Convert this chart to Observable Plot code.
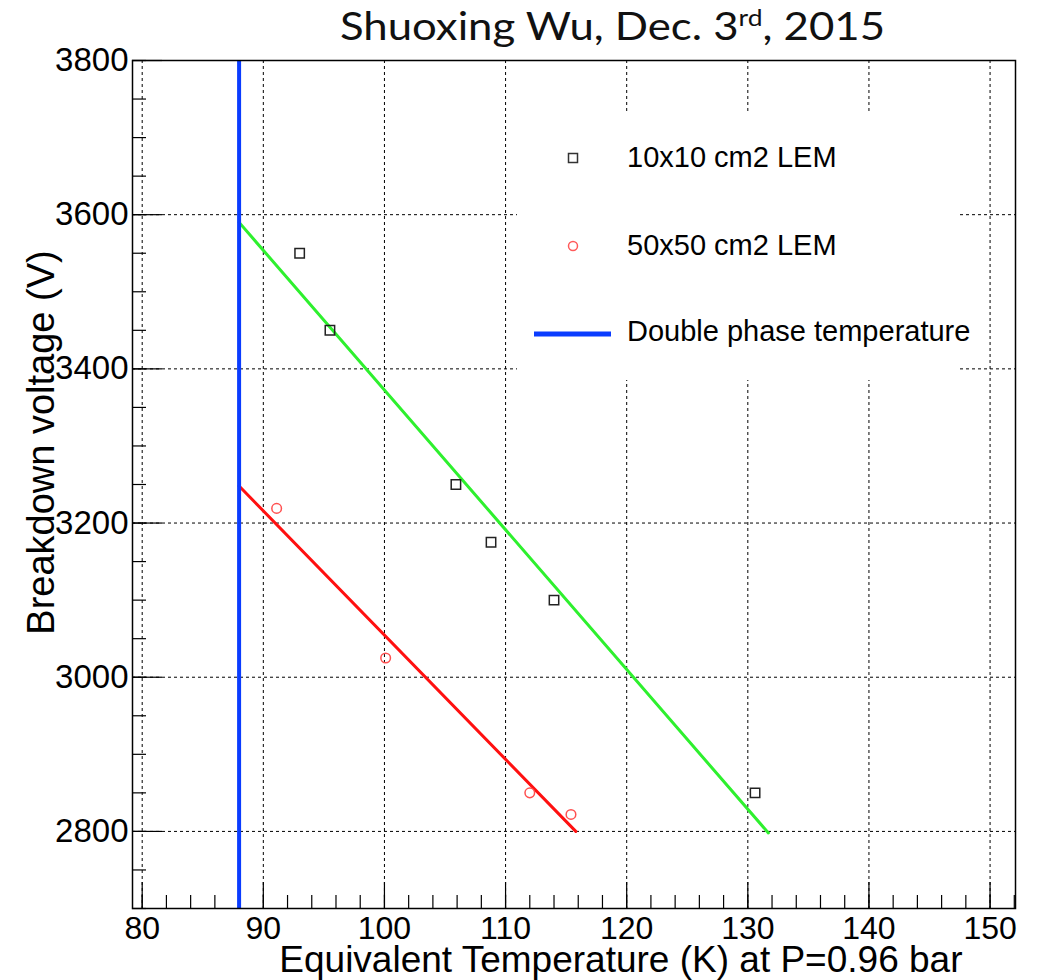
<!DOCTYPE html>
<html>
<head>
<meta charset="utf-8">
<script src="https://cdn.jsdelivr.net/npm/d3@7"></script>
<script src="https://cdn.jsdelivr.net/npm/@observablehq/plot@0.6"></script>
<style>
  body { margin: 0; background: #fff; }
  #wrap { position: relative; width: 1043px; height: 980px; }
  #overlay { position: absolute; left: 0; top: 0; pointer-events: none; }
</style>
</head>
<body>
<div id="wrap"></div>
<script>
// ---- data ----
const tempSmall = [93.0, 95.5, 105.9, 108.8, 114.0, 130.6];   // 10x10 cm2 LEM
const voltSmall = [3550, 3450, 3250, 3175, 3100, 2850];
const tempLarge = [91.1, 100.1, 112.0, 115.4];               // 50x50 cm2 LEM
const voltLarge = [3219, 3025, 2850, 2822];
const fitSmallT = [88.0, 131.7];                             // green fit line endpoints
const fitSmallV = [3590, 2798];
const fitLargeT = [88.0, 115.8];                             // red fit line endpoints
const fitLargeV = [3248, 2800];
const doublePhaseT = [88];
const xMajor = [80, 90, 100, 110, 120, 130, 140, 150];
const xMinor = [80, 82, 84, 86, 88, 90, 92, 94, 96, 98, 100, 102, 104, 106, 108, 110, 112, 114, 116, 118, 120, 122, 124, 126, 128, 130, 132, 134, 136, 138, 140, 142, 144, 146, 148, 150, 152];
const yMajor = [2800, 3000, 3200, 3400, 3600, 3800];
const yMinor = [2700, 2750, 2800, 2850, 2900, 2950, 3000, 3050, 3100, 3150, 3200, 3250, 3300, 3350, 3400, 3450, 3500, 3550, 3600, 3650, 3700, 3750, 3800];
const legendLabels = ["10x10 cm2 LEM", "50x50 cm2 LEM", "Double phase temperature"];
const xTitle = "Equivalent Temperature (K) at P=0.96 bar";
const yTitle = "Breakdown voltage (V)";

const small = tempSmall.map((t, i) => ({t, v: voltSmall[i]}));
const large = tempLarge.map((t, i) => ({t, v: voltLarge[i]}));
const fitSmall = fitSmallT.map((t, i) => ({t, v: fitSmallV[i]}));
const fitLarge = fitLargeT.map((t, i) => ({t, v: fitLargeV[i]}));

const W = 1043, H = 980, mL = 132, mR = 28, mT = 60, mB = 72;
const frameW = W - mL - mR, frameH = H - mT - mB;

const chart = Plot.plot({
  width: W, height: H,
  marginLeft: mL, marginRight: mR, marginTop: mT, marginBottom: mB,
  x: {domain: [79.2, 152.1]},
  y: {domain: [2700, 3800]},
  style: {fontFamily: "Liberation Sans, Arial, sans-serif", background: "white", color: "black"},
  marks: [
    Plot.gridX(xMajor, {stroke: "black", strokeOpacity: 1, strokeWidth: 1, strokeDasharray: "3,3"}),
    Plot.gridY(yMajor, {stroke: "black", strokeOpacity: 1, strokeWidth: 1, strokeDasharray: "3,3"}),
    Plot.line(fitLarge, {x: "t", y: "v", stroke: "#ff1010", strokeWidth: 3}),
    Plot.line(fitSmall, {x: "t", y: "v", stroke: "#2ef02e", strokeWidth: 3}),
    Plot.dot(small, {x: "t", y: "v", symbol: "square", r: 5.3, stroke: "#222", strokeWidth: 1.5, fill: "none"}),
    Plot.dot(large, {x: "t", y: "v", symbol: "circle", r: 4.8, stroke: "#ff5050", strokeWidth: 1.5, fill: "none"}),
    Plot.ruleX(xMinor, {x: d => d, insetTop: frameH - 13, stroke: "black", strokeWidth: 1.2}),
    Plot.ruleX(xMajor, {x: d => d, insetTop: frameH - 26, stroke: "black", strokeWidth: 1.2}),
    Plot.ruleY(yMinor, {y: d => d, insetRight: frameW - 14, stroke: "black", strokeWidth: 1.2}),
    Plot.ruleY(yMajor, {y: d => d, insetRight: frameW - 30, stroke: "black", strokeWidth: 1.2}),
    Plot.ruleX(doublePhaseT, {x: d => d, stroke: "#0a3cff", strokeWidth: 4}),
    Plot.frame({stroke: "black", strokeWidth: 1.5}),
    Plot.axisX(xMajor, {tickSize: 0, tickPadding: 8, fontSize: 32, label: null, tickFormat: d => String(d)}),
    Plot.axisY(yMajor, {tickSize: 0, tickPadding: 4, fontSize: 33, label: null, tickFormat: d => String(d)}),
    Plot.text([xTitle], {frameAnchor: "bottom-right", textAnchor: "end", lineAnchor: "bottom", dx: -53, dy: 63, fontSize: 37}),
    Plot.text([yTitle], {frameAnchor: "left", rotate: -90, textAnchor: "middle", lineAnchor: "bottom", dx: -79, dy: -42, fontSize: 38})
  ]
});
document.getElementById("wrap").appendChild(chart);

// ---- title and legend overlay ----
const ns = "http://www.w3.org/2000/svg";
const ov = document.createElementNS(ns, "svg");
ov.setAttribute("id", "overlay");
ov.setAttribute("width", W);
ov.setAttribute("height", H);
ov.innerHTML = `
  <text x="340" y="40" font-family="Lato, 'Open Sans', sans-serif" font-size="38" fill="#111"
        textLength="545" lengthAdjust="spacingAndGlyphs">Shuoxing Wu, Dec. 3<tspan font-size="23" dy="-14">rd</tspan><tspan dy="14">, 2015</tspan></text>
  <rect x="517" y="113" width="442" height="267" fill="white"></rect>
  <rect x="568.5" y="153.5" width="9" height="9" fill="none" stroke="#333" stroke-width="1.5"></rect>
  <circle cx="573" cy="246" r="4.5" fill="none" stroke="#ff5a5a" stroke-width="1.5"></circle>
  <line x1="534" x2="611" y1="334" y2="334" stroke="#0a3cff" stroke-width="5"></line>
  <g font-family="Liberation Sans, Arial, sans-serif" font-size="29" fill="black">
    <text x="627" y="167">${legendLabels[0]}</text>
    <text x="627" y="255">${legendLabels[1]}</text>
    <text x="627" y="341">${legendLabels[2]}</text>
  </g>`;
document.getElementById("wrap").appendChild(ov);
</script>
</body>
</html>
